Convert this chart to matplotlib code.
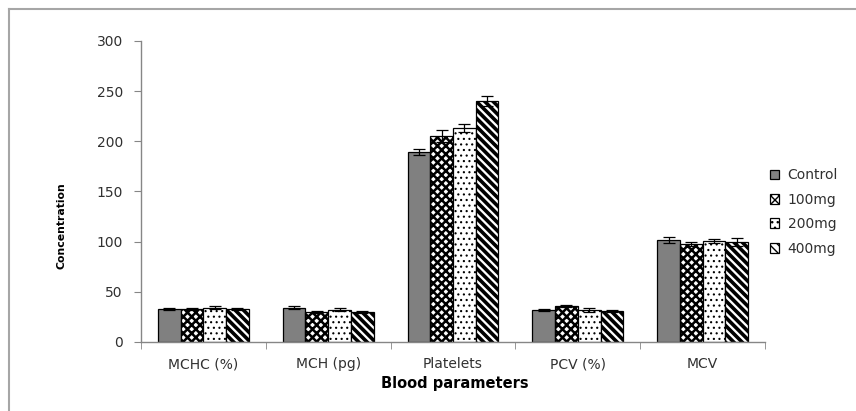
import numpy as np
import matplotlib.pyplot as plt
from matplotlib.lines import Line2D

plt.rcParams['font.family'] = ['DejaVu Sans']

params = ['MCHC (%)', 'MCH (pg)', 'Platelets', 'PCV (%)', 'MCV']
groups = ['Control', '100mg', '200mg', '400mg']
control = [33, 34, 189, 32, 102]
mg100 = [33, 30, 205, 36, 98]
mg200 = [34, 32, 213, 32, 101]
mg400 = [33, 30, 240, 31, 100]
err_control = [1, 1.5, 3, 1, 3]
err_100 = [1, 1, 6, 1, 2]
err_200 = [1.5, 1.5, 4, 2, 2]
err_400 = [1, 1, 5, 1, 4]

values = [control, mg100, mg200, mg400]
errors = [err_control, err_100, err_200, err_400]
styles = [
    dict(color='#808080', hatch=None, hlw=1.0),
    dict(color='white', hatch='xxxx', hlw=1.8),
    dict(color='white', hatch='...', hlw=0.8),
    dict(color='white', hatch='\\\\\\\\', hlw=2.6),
]

fig = plt.figure(figsize=(8.56, 4.11), dpi=100)
ax = fig.add_axes([0.1647, 0.1679, 0.7290, 0.7324])

x = np.arange(len(params))
w = 0.182
for i, (vals, errs, st) in enumerate(zip(values, errors, styles)):
    pos = x + (i - 1.5) * w
    bars = ax.bar(pos, vals, width=w, color=st['color'], edgecolor='black',
                  linewidth=0.9, hatch=st['hatch'], label=groups[i], zorder=2)
    for b in bars:
        if hasattr(b, 'set_hatch_linewidth'):
            b.set_hatch_linewidth(st['hlw'])
    ax.errorbar(pos, vals, yerr=errs, fmt='none', ecolor='black',
                elinewidth=0.9, capsize=4.5, capthick=0.9, zorder=3)

ax.set_xlim(-0.5, 4.5)
ax.set_ylim(0, 300)
ax.set_yticks(np.arange(0, 301, 50))
ax.set_xticks(x)
ax.set_xticklabels(params)
ax.set_xticks(np.arange(-0.5, 5, 1), minor=True)

for s in ['top', 'right']:
    ax.spines[s].set_visible(False)
for s in ['left', 'bottom']:
    ax.spines[s].set_color('#868686')
    ax.spines[s].set_linewidth(1.0)

ax.tick_params(axis='y', direction='out', length=5, color='#868686',
               labelsize=10, labelcolor='#303030', pad=8)
ax.tick_params(axis='x', which='major', length=0, labelsize=10,
               labelcolor='#303030', pad=11)
ax.tick_params(axis='x', which='minor', direction='out', length=5,
               color='#868686')

fig.text(62 / 856, 1 - 226 / 411, 'Concentration', rotation=90,
         ha='center', va='center', fontsize=7.8, fontweight='bold')
fig.text(455 / 856, 1 - 383 / 411, 'Blood parameters', ha='center',
         va='center', fontsize=10.5, fontweight='bold')

ax.legend(loc='center left', bbox_to_anchor=(757 / 856, 1 - 212 / 411),
          bbox_transform=fig.transFigure, frameon=False, fontsize=10,
          handlelength=0.7, handleheight=0.7, handletextpad=0.6,
          labelspacing=0.75, labelcolor='#303030')

# outer frame
fig.add_artist(Line2D([9 / 856, 9 / 856], [0, 1 - 9 / 411],
                      color='#a6a6a6', lw=1.5, transform=fig.transFigure))
fig.add_artist(Line2D([9 / 856, 1], [1 - 9 / 411, 1 - 9 / 411],
                      color='#a6a6a6', lw=1.5, transform=fig.transFigure))

fig.savefig('out.png', dpi=100)
